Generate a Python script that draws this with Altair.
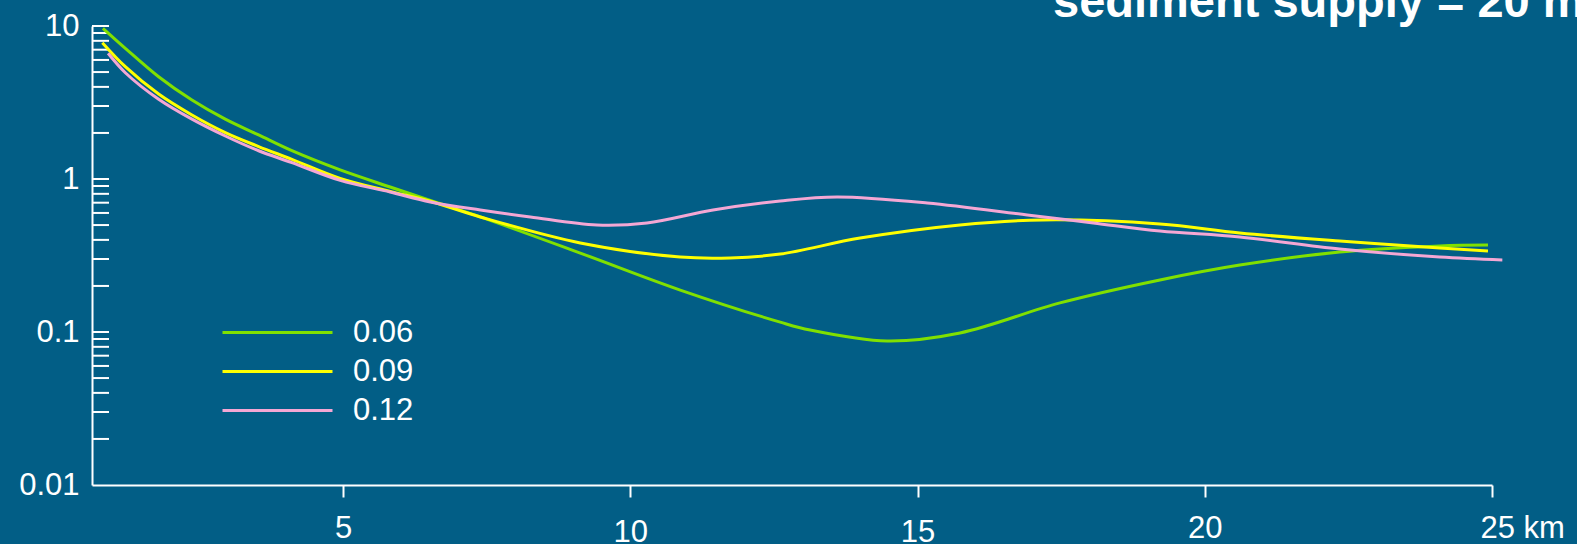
import altair as alt
import pandas as pd

TITLE = "sediment supply = 20 m³/s"
BACKGROUND = "#025E86"

SERIES = ["0.06", "0.09", "0.12"]
COLORS = ["#80E000", "#FFFF00", "#F4A7D4"]

# distance downstream (km) and value along each profile
KM_006 = [0.82, 1.21, 1.79, 2.37, 2.95, 3.53, 4.11, 4.95, 5.82, 6.52, 7.39, 9.13,
          10.87, 12.61, 13.13, 14.47, 15.74, 17.48, 19.22, 20.61, 22.35, 24.09, 24.93]
VAL_006 = [9.66, 7.15, 4.66, 3.28, 2.46, 1.94, 1.53, 1.146, 0.887, 0.725, 0.565, 0.328,
           0.188, 0.116, 0.103, 0.0873, 0.0985, 0.155, 0.219, 0.274, 0.333, 0.365, 0.370]

KM_009 = [0.81, 1.21, 1.79, 2.37, 2.95, 3.53, 4.11, 4.95, 5.82, 6.52, 7.39, 9.13,
          10.87, 11.74, 12.61, 14.0, 15.74, 17.18, 19.22, 20.61, 22.35, 24.09, 24.93]
VAL_009 = [7.78, 5.42, 3.59, 2.62, 2.01, 1.63, 1.345, 1.01, 0.83, 0.715, 0.565, 0.382,
           0.309, 0.305, 0.323, 0.411, 0.501, 0.540, 0.508, 0.444, 0.393, 0.354, 0.338]

KM_012 = [0.91, 1.21, 1.79, 2.37, 2.95, 3.53, 4.11, 4.95, 5.82, 6.52, 7.39, 8.26,
          9.42, 10.29, 11.44, 12.61, 13.60, 15.17, 16.91, 18.06, 19.22, 20.61, 22.35,
          24.09, 25.18]
VAL_012 = [6.63, 4.95, 3.32, 2.46, 1.91, 1.53, 1.28, 0.98, 0.822, 0.708, 0.627, 0.565,
           0.500, 0.516, 0.627, 0.718, 0.763, 0.697, 0.582, 0.516, 0.457, 0.418, 0.349,
           0.309, 0.296]

X_TICKS = [5, 10, 15, 20, 25]
Y_LABELS = [0.01, 0.1, 1, 10]
Y_TICKS = [0.02, 0.03, 0.04, 0.05, 0.06, 0.07, 0.08, 0.09, 0.1,
           0.2, 0.3, 0.4, 0.5, 0.6, 0.7, 0.8, 0.9, 1,
           2, 3, 4, 5, 6, 7, 8, 9, 10]

rows = []
for name, xs, ys in [(SERIES[0], KM_006, VAL_006),
                     (SERIES[1], KM_009, VAL_009),
                     (SERIES[2], KM_012, VAL_012)]:
    for x, y in zip(xs, ys):
        rows.append({"series": name, "km": x, "value": y})
profiles = pd.DataFrame(rows)

FONT = "Liberation Sans"
LABEL_SIZE = 31

x_scale = alt.Scale(domain=[0.63, 25], nice=False, zero=False)
y_scale = alt.Scale(type="log", domain=[0.01, 10], nice=False)

y_axis = alt.Axis(
    values=Y_LABELS, title=None, grid=False, format="~g",
    domainColor="white", domainWidth=2,
    ticks=False, tickSize=0,
    labelColor="white", labelFontSize=LABEL_SIZE, labelFont=FONT,
    labelPadding=13, labelFlush=False, labelOverlap=False,
)

x_axis = alt.Axis(
    values=X_TICKS, title=None, grid=False,
    domainColor="white", domainWidth=2,
    tickColor="white", tickWidth=2, tickSize=12,
    labelColor="white", labelFontSize=LABEL_SIZE, labelFont=FONT,
    labelPadding={"condition": {"test": "datum.value == 10 || datum.value == 15",
                                "value": 20},
                  "value": 16},
    labelExpr="datum.value == 25 ? '25 km' : datum.label",
    labelAlign={"condition": {"test": "datum.value == 25", "value": "left"},
                "value": "center"},
    labelOffset={"condition": {"test": "datum.value == 25", "value": -12},
                 "value": 0},
    labelFlush=False, labelOverlap=False,
)

# inward-pointing ticks on the log axis
ticks = alt.Chart(pd.DataFrame({"v": Y_TICKS})).mark_rule(
    color="white", strokeWidth=2
).encode(
    y=alt.Y("v:Q", scale=y_scale, axis=y_axis),
    x=alt.value(0),
    x2=alt.value(17),
)

lines = alt.Chart(profiles).mark_line(
    strokeWidth=3, interpolate="catmull-rom", clip=False
).encode(
    x=alt.X("km:Q", scale=x_scale, axis=x_axis),
    y=alt.Y("value:Q", scale=y_scale, axis=y_axis),
    color=alt.Color("series:N", scale=alt.Scale(domain=SERIES, range=COLORS),
                    legend=alt.Legend(
                        title=None, orient="none", legendX=170, legendY=291,
                        symbolType="M-5,0H5", symbolSize=484,
                        symbolStrokeWidth=3, labelFontSize=LABEL_SIZE,
                        labelColor="white", labelFont=FONT, labelOffset=60,
                        rowPadding=7, padding=0,
                    )),
)

title = alt.Chart(alt.Data(values=[{"t": TITLE}])).mark_text(
    align="left", baseline="alphabetic", fontSize=47, fontWeight="bold",
    color="white", font=FONT
).encode(
    text="t:N",
    x=alt.value(961),
    y=alt.value(-9.5),
)

chart = alt.layer(ticks, lines, title).properties(
    width=1400,
    height=459,
    background=BACKGROUND,
    autosize="none",
    padding={"left": 92, "top": 26, "right": 85, "bottom": 59},
).configure(
    font=FONT,
    view=alt.ViewConfig(stroke="transparent", strokeWidth=0),
)

chart.save("out.html", embed_options={"renderer": "svg", "actions": False})
